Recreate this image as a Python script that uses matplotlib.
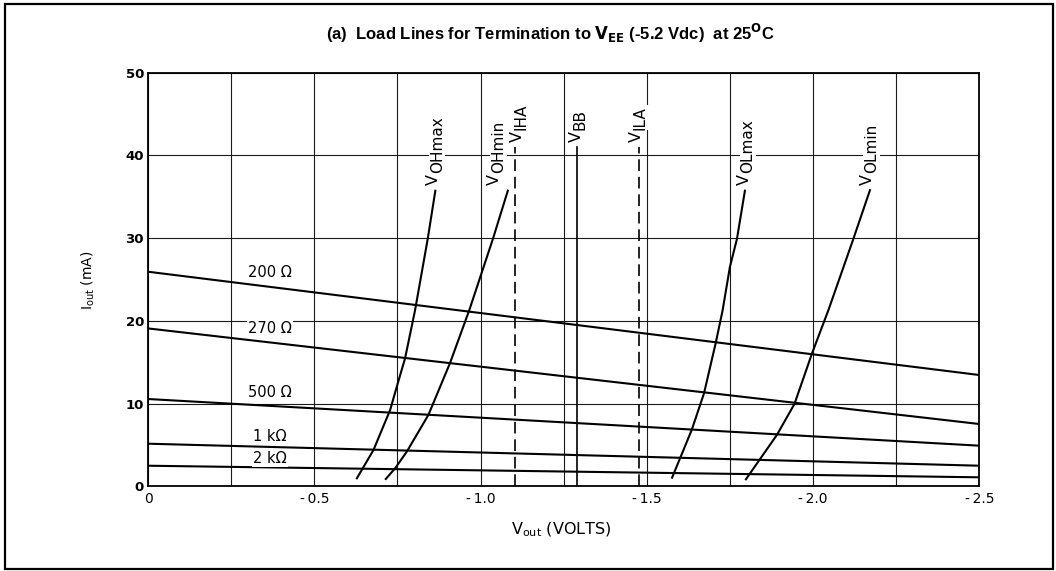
import matplotlib
matplotlib.use("Agg")
import matplotlib.pyplot as plt
from matplotlib.patches import Rectangle
from matplotlib.ticker import MultipleLocator, FixedLocator, FixedFormatter

plt.rcParams['font.family'] = ['DejaVu Sans']
plt.rcParams['mathtext.fontset'] = 'custom'
plt.rcParams['mathtext.rm'] = 'DejaVu Sans'
plt.rcParams['mathtext.bf'] = 'Liberation Sans Narrow:bold'

# ---- data -------------------------------------------------------------
# load lines (termination to VEE): output voltage (V) vs output current (mA)
load_names = ["200 \u03a9", "270 \u03a9", "500 \u03a9", "1 k\u03a9", "2 k\u03a9"]
load_v = [0.0, -2.5]
load_i_200 = [25.95, 13.47]
load_i_270 = [19.1, 7.55]
load_i_500 = [10.57, 4.93]
load_i_1k = [5.17, 2.51]
load_i_2k = [2.51, 1.11]

# output characteristic curves
voh_max_v = [-0.628, -0.678, -0.728, -0.751, -0.773, -0.803, -0.841, -0.864]
voh_max_i = [0.99, 4.41, 9.24, 12.47, 15.49, 21.3, 29.9, 35.74]
voh_min_v = [-0.715, -0.743, -0.778, -0.843, -0.908, -0.966, -1.037, -1.082]
voh_min_i = [0.91, 2.2, 4.2, 8.64, 14.9, 21.3, 29.9, 35.74]
vol_max_v = [-1.576, -1.635, -1.672, -1.707, -1.728, -1.750, -1.771, -1.795]
vol_max_i = [1.07, 6.83, 11.26, 17.3, 21.3, 26.56, 29.9, 35.74]
vol_min_v = [-1.798, -1.891, -1.944, -1.997, -2.046, -2.121, -2.171]
vol_min_i = [0.87, 6.22, 9.97, 16.1, 21.3, 29.9, 35.8]
curve_subs = ["OHmax", "OHmin", "OLmax", "OLmin"]

# input thresholds and reference voltage (V)
ref_v = [-1.105, -1.29, -1.475]
ref_subs = ["IHA", "BB", "ILA"]
ref_top = 41.0

x_ticks = [0, -0.5, -1.0, -1.5, -2.0, -2.5]
x_tick_labels = ["0", "-\u20090.5", "-\u20091.0", "-\u20091.5", "-\u20092.0", "-\u20092.5"]
y_ticks = [0, 10, 20, 30, 40, 50]

# ---- figure -----------------------------------------------------------
fig = plt.figure(figsize=(10.56, 5.71), dpi=100)
fig.patches.append(Rectangle((0.0047, 0.003), 0.9922, 0.990, transform=fig.transFigure,
                             fill=False, lw=1.6, ec='black', zorder=0))
ax = fig.add_axes([0.1402, 0.148, 0.7872, 0.7247])
ax.set_xlim(0, -2.5)
ax.set_ylim(0, 50)

ax.xaxis.set_major_locator(FixedLocator(x_ticks))
ax.xaxis.set_major_formatter(FixedFormatter(x_tick_labels))
ax.xaxis.set_minor_locator(MultipleLocator(0.25))
ax.yaxis.set_major_locator(FixedLocator(y_ticks))
ax.grid(True, which='both', axis='x', color='#1a1a1a', lw=0.8)
ax.grid(True, which='major', axis='y', color='#1a1a1a', lw=0.8)
ax.set_axisbelow(True)
ax.tick_params(which='both', length=0)
ax.tick_params(axis='x', pad=4, labelsize=10)
ax.tick_params(axis='y', pad=3, labelsize=9.5)
for lab in ax.get_yticklabels():
    lab.set_fontweight('bold')
for s in ax.spines.values():
    s.set_linewidth(1.3)

fig.text(0.5319, 0.0718, r"$\mathregular{V_{out}}$ (VOLTS)", ha='center', va='center',
         fontsize=11.5)
fig.text(0.0833, 0.5096, r"$\mathregular{I_{out}}$ (mA)", ha='center', va='center',
         fontsize=10, rotation=90)

renderer = fig.canvas.get_renderer()
white = dict(fc='white', ec='none', pad=0.5)


def vertical_label(x, y, sub, dx, dy, size=11.5, sub_size=11):
    """Rotated 'V' with a lowered subscript, starting just above (x, y)."""
    base = ax.annotate("V", (x, y), xytext=(dx, dy), textcoords='offset points',
                       rotation=90, ha='center', va='bottom', fontsize=size,
                       zorder=5, bbox=white)
    length_pt = base.get_window_extent(renderer).height * 72.0 / fig.dpi + 0.8
    ax.annotate(sub, (x, y), xytext=(dx + 2.8, dy + length_pt), textcoords='offset points',
                rotation=90, ha='center', va='bottom', fontsize=sub_size,
                zorder=5, bbox=white)


# load lines
loads = [load_i_200, load_i_270, load_i_500, load_i_1k, load_i_2k]
label_i = [25.8, 19.1, 11.3, 6.1, 3.4]
for name, vals, li in zip(load_names, loads, label_i):
    ax.plot(load_v, vals, color='black', lw=1.5, zorder=3)
    ax.text(-0.367, li, name, ha='center', va='center', fontsize=10.5, zorder=5,
            bbox=dict(fc='white', ec='none', pad=1.0))

# output curves with labels above their upper ends
curves = [(voh_max_v, voh_max_i), (voh_min_v, voh_min_i),
          (vol_max_v, vol_max_i), (vol_min_v, vol_min_i)]
label_dx = [-1.5, -9.5, -0.5, -1.5]
for (cv, ci), sub, dx in zip(curves, curve_subs, label_dx):
    ax.plot(cv, ci, color='black', lw=1.5, zorder=3)
    vertical_label(cv[-1], ci[-1], sub, dx, 4)

# threshold / reference lines
styles = ['dashed', 'solid', 'dashed']
ref_dx = [1.5, -0.5, -1.5]
for v, sub, st, dx in zip(ref_v, ref_subs, styles, ref_dx):
    if st == 'dashed':
        ax.plot([v, v], [0, ref_top], color='black', lw=1.2, dashes=(7, 3.5), zorder=3)
    else:
        ax.plot([v, v], [0, ref_top], color='black', lw=1.2, zorder=3)
    vertical_label(v, ref_top, sub, dx, 4)

fig.text(0.521, 0.941,
         r"(a)  Load Lines for Termination to $\mathbf{V_{EE}}$ (-5.2 Vdc)  at 25$\mathbf{^O}$C",
         ha='center', va='center', fontsize=12, fontweight='bold',
         family=['Liberation Sans Narrow', 'Liberation Sans'])

fig.savefig("out.png", dpi=100)
